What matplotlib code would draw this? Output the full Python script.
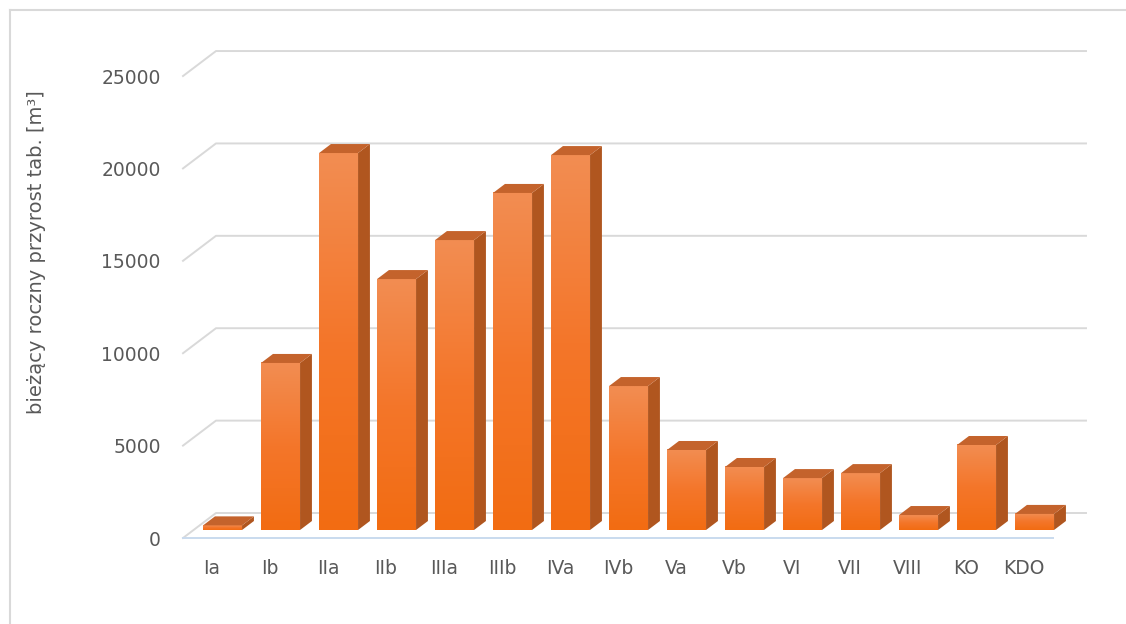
import matplotlib.pyplot as plt
import numpy as np
from matplotlib.patches import Polygon
from matplotlib.lines import Line2D
from matplotlib.colors import LinearSegmentedColormap

categories = ['Ia', 'Ib', 'IIa', 'IIb', 'IIIa', 'IIIb', 'IVa', 'IVb',
              'Va', 'Vb', 'VI', 'VII', 'VIII', 'KO', 'KDO']
values = [250, 9040, 20400, 13580, 15690, 18240, 20290, 7790,
          4330, 3410, 2810, 3080, 810, 4600, 870]
y_ticks = [0, 5000, 10000, 15000, 20000, 25000]
y_label = 'bieżący roczny przyrost tab. [m³]'

# oblique "3D" offset for full depth, in data units
DX = 0.569
DY = 1353
d0, d1 = 0.32, 0.68   # bar front / back depth
hw = 0.336            # half bar width


def proj(x, y, d):
    return (x + d * DX, y + d * DY)


fig = plt.figure(figsize=(11.26, 6.24), dpi=100)
ax = fig.add_axes([183 / 1126, 86 / 624, 907 / 1126, 498 / 624])

n = len(categories)
grid_c = '#d9d9d9'
for t in y_ticks:
    ax.plot([-0.5, -0.5 + DX, n - 0.5 + DX], [t, t + DY, t + DY],
            color=grid_c, lw=1.4, zorder=1, clip_on=False)
ax.plot([-0.5, n - 0.5], [0, 0], color='#c9daee', lw=1.4, zorder=2, clip_on=False)

cmap = LinearSegmentedColormap.from_list('bar', ['#f26c12', '#f4762a', '#f28d52'])
grad = np.linspace(0, 1, 128).reshape(-1, 1)

for i, v in enumerate(values):
    x0, y0 = proj(i - hw, 0, d0)
    x1, y1 = proj(i + hw, v, d0)
    ax.imshow(grad, extent=(x0, x1, y0, y1), origin='lower', cmap=cmap,
              aspect='auto', zorder=3, clip_on=False, interpolation='bilinear')
    side = [proj(i + hw, 0, d0), proj(i + hw, v, d0),
            proj(i + hw, v, d1), proj(i + hw, 0, d1)]
    top = [proj(i - hw, v, d0), proj(i + hw, v, d0),
           proj(i + hw, v, d1), proj(i - hw, v, d1)]
    ax.add_patch(Polygon(side, closed=True, fc='#b0561f', ec='none',
                         zorder=3, clip_on=False))
    ax.add_patch(Polygon(top, closed=True, fc='#c4632c', ec='none',
                         zorder=3, clip_on=False))

ax.set_xlim(-0.5, 15.138)
ax.set_ylim(0, 26950)
ax.set_xticks(range(n), categories)
ax.set_yticks(y_ticks)
ax.tick_params(axis='y', length=0, pad=16, labelsize=13.5, labelcolor='#595959')
ax.tick_params(axis='x', length=0, pad=15, labelsize=13.5, labelcolor='#595959')
for s in ax.spines.values():
    s.set_visible(False)
ax.patch.set_visible(False)

fig.text(37 / 1126, 1 - 252 / 624, y_label, rotation=90, ha='center',
         va='center', fontsize=14, color='#595959')

# chart area border (only top and left visible in the crop)
fig.add_artist(Line2D([10 / 1126, 10 / 1126], [0, 1 - 10 / 624],
                      transform=fig.transFigure, color=grid_c, lw=1.5))
fig.add_artist(Line2D([10 / 1126, 1], [1 - 10 / 624, 1 - 10 / 624],
                      transform=fig.transFigure, color=grid_c, lw=1.5))

fig.savefig('out.png', dpi=100)
